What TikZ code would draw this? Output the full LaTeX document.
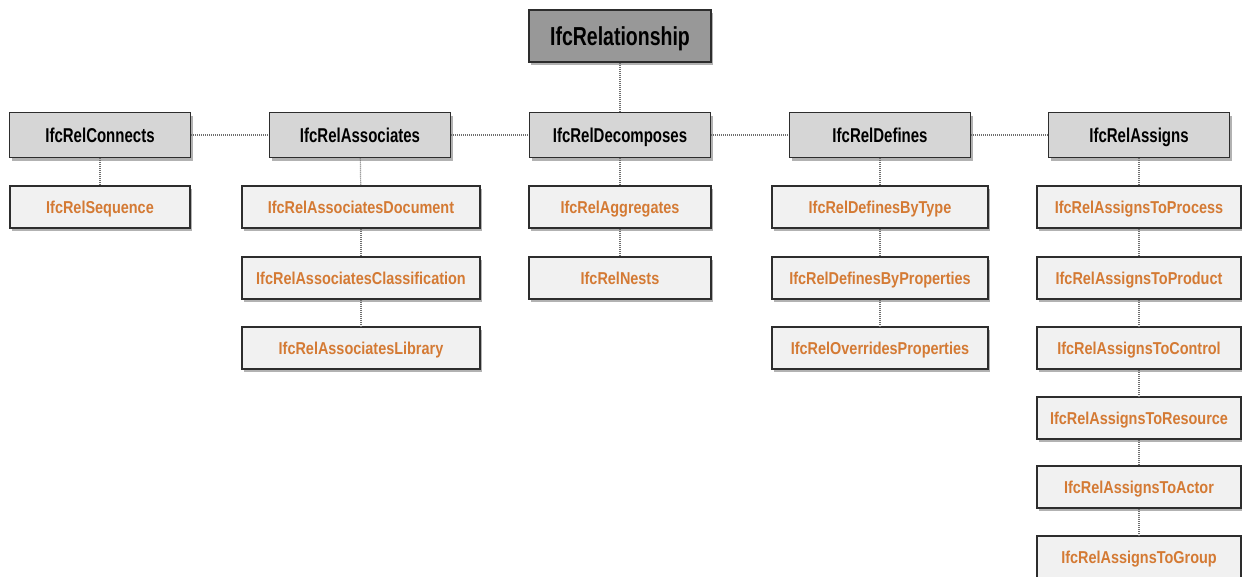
\documentclass[tikz,border=0pt]{standalone}
\usepackage{fontspec}
\setmainfont{Liberation Sans}
\newfontfamily\headfont[FakeStretch=0.75]{Liberation Sans}
\newfontfamily\subfont[FakeStretch=0.84]{Liberation Sans}
\usetikzlibrary{shadows}

\definecolor{topgray}{RGB}{152,152,152}
\definecolor{midgray}{RGB}{214,214,214}
\definecolor{lowgray}{RGB}{241,241,241}
\definecolor{relorange}{RGB}{212,122,52}
\definecolor{edgegray}{RGB}{45,45,45}
\definecolor{linkgray}{RGB}{110,110,110}

\tikzset{
  basebox/.style={draw=edgegray, line width=1.6pt, inner sep=0pt, text depth=0pt,
    drop shadow={shadow xshift=2pt, shadow yshift=-3pt, opacity=0.3, fill=black}},
  rootbox/.style={basebox, fill=topgray, minimum width=182pt, minimum height=52pt,
    text height=18.7pt, font=\headfont\bfseries\fontsize{26}{28}\selectfont},
  groupbox/.style={basebox, fill=midgray, minimum width=181pt, minimum height=45pt,
    text height=14.4pt, font=\headfont\bfseries\fontsize{20}{22}\selectfont},
  leafbox/.style={basebox, fill=lowgray, minimum height=42pt, text=relorange,
    text height=12.4pt, font=\subfont\bfseries\fontsize{17.2}{19}\selectfont},
  link/.style={draw=linkgray, line width=1.2pt, dash pattern=on 1pt off 1pt}
}

\begin{document}
\begin{tikzpicture}[x=1pt,y=-1pt]
    \useasboundingbox (0,0) rectangle (1242,576);

    % Root of the tree
    \node[rootbox] (rel) at (620,36) {IfcRelationship};

    % Second level
    \node[groupbox] (connects)   at (100,135)  {IfcRelConnects};
    \node[groupbox] (associates) at (360,135)  {IfcRelAssociates};
    \node[groupbox] (decomposes) at (620,135)  {IfcRelDecomposes};
    \node[groupbox] (defines)    at (880,135)  {IfcRelDefines};
    \node[groupbox] (assigns)    at (1139,135) {IfcRelAssigns};

    % Connects branch
    \node[leafbox, minimum width=180pt] (sequence) at (100,207) {IfcRelSequence};

    % Associates branch
    \node[leafbox, minimum width=238pt] (document)       at (361,207) {IfcRelAssociatesDocument};
    \node[leafbox, minimum width=238pt] (classification) at (361,278) {IfcRelAssociatesClassification};
    \node[leafbox, minimum width=238pt] (library)        at (361,348) {IfcRelAssociatesLibrary};

    % Decomposes branch
    \node[leafbox, minimum width=182pt] (aggregates) at (620,207) {IfcRelAggregates};
    \node[leafbox, minimum width=182pt] (nests)      at (620,278) {IfcRelNests};

    % Defines branch
    \node[leafbox, minimum width=216pt] (bytype)     at (880,207) {IfcRelDefinesByType};
    \node[leafbox, minimum width=216pt] (byprops)    at (880,278) {IfcRelDefinesByProperties};
    \node[leafbox, minimum width=216pt] (overrides)  at (880,348) {IfcRelOverridesProperties};

    % Assigns branch
    \node[leafbox, minimum width=204pt] (process)  at (1139,207) {IfcRelAssignsToProcess};
    \node[leafbox, minimum width=204pt] (product)  at (1139,278) {IfcRelAssignsToProduct};
    \node[leafbox, minimum width=204pt] (control)  at (1139,348) {IfcRelAssignsToControl};
    \node[leafbox, minimum width=204pt] (resource) at (1139,418) {IfcRelAssignsToResource};
    \node[leafbox, minimum width=204pt] (actor)    at (1139,487) {IfcRelAssignsToActor};
    \node[leafbox, minimum width=204pt] (group)    at (1139,557) {IfcRelAssignsToGroup};

    % Links between the boxes
    \draw[link] (rel) -- (decomposes);
    \draw[link] (connects) -- (associates);
    \draw[link] (associates) -- (decomposes);
    \draw[link] (decomposes) -- (defines);
    \draw[link] (defines) -- (assigns);

    \draw[link] (connects) -- (sequence);
    \draw[link] (associates) -- (document);
    \draw[link] (document) -- (classification);
    \draw[link] (classification) -- (library);
    \draw[link] (decomposes) -- (aggregates);
    \draw[link] (aggregates) -- (nests);
    \draw[link] (defines) -- (bytype);
    \draw[link] (bytype) -- (byprops);
    \draw[link] (byprops) -- (overrides);
    \draw[link] (assigns) -- (process);
    \draw[link] (process) -- (product);
    \draw[link] (product) -- (control);
    \draw[link] (control) -- (resource);
    \draw[link] (resource) -- (actor);
    \draw[link] (actor) -- (group);
\end{tikzpicture}
\end{document}
